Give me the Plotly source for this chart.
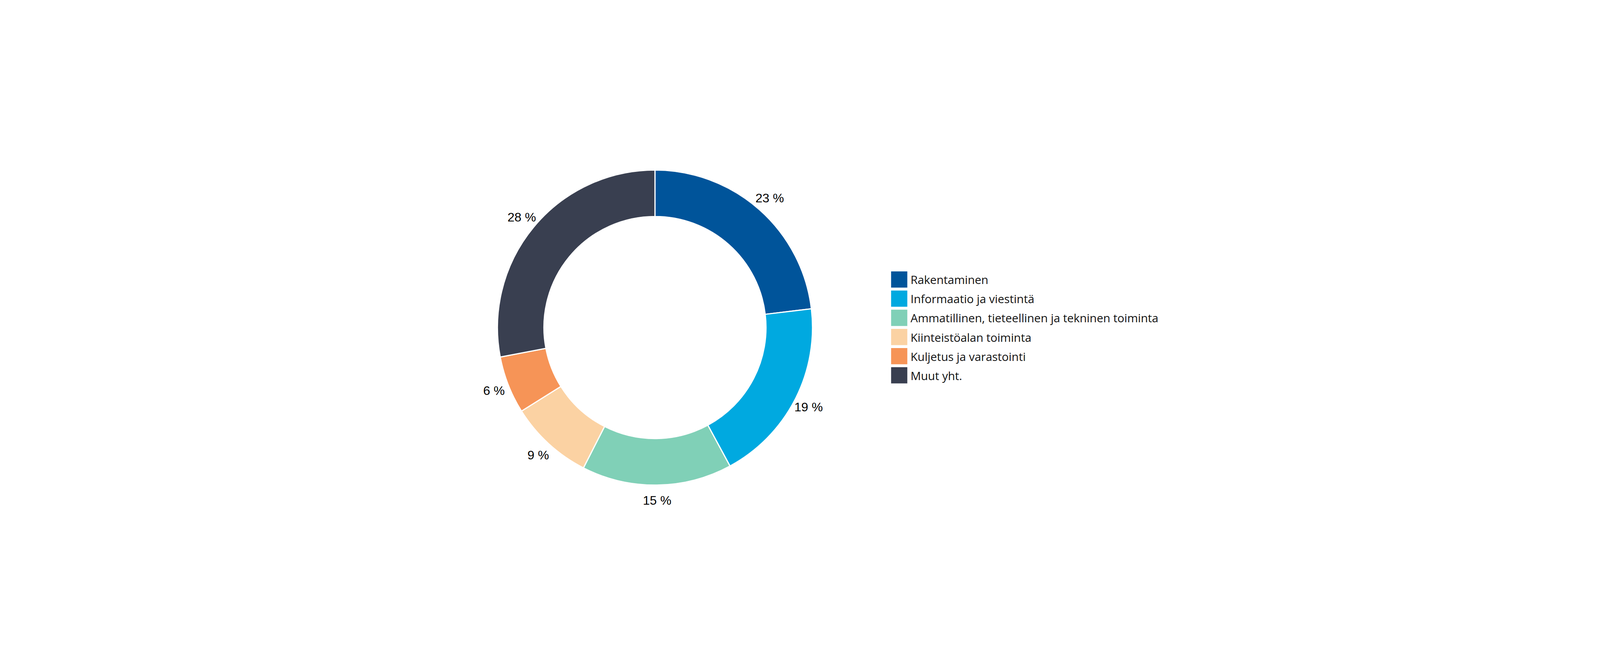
import plotly.graph_objects as go

# Toimialat ja osuudet (%)
categories = [
    "Rakentaminen",
    "Informaatio ja viestintä",
    "Ammatillinen, tieteellinen ja tekninen toiminta",
    "Kiinteistöalan toiminta",
    "Kuljetus ja varastointi",
    "Muut yht.",
]
shares = [23.1, 19.0, 15.4, 8.6, 5.9, 28.0]
colors = ["#00549A", "#00A9E0", "#80D0B7", "#FBD2A3", "#F69457", "#393F50"]

# sizes were measured on the 6000 px wide reference; page px are a bit larger
W = 6000
k = 0.681          # page px per reference px
cx = 2454 / W      # donut centre (paper)
cy = 0.503
R = 593            # donut outer radius, reference px
R_lab = 740        # outer radius of the invisible ring that carries the labels
lab_mid = 651      # labels sit on this radius

fig = go.Figure()

# invisible ring: its inside text gives the percent labels centred on lab_mid
fig.add_trace(go.Pie(
    labels=categories,
    values=shares,
    sort=False,
    direction="clockwise",
    rotation=0,
    hole=1 - 2 * (R_lab - lab_mid) / R_lab,
    marker=dict(colors=["rgba(0,0,0,0)"] * len(shares), line=dict(width=0)),
    textposition="inside",
    insidetextorientation="horizontal",
    texttemplate="%{value:.0f} %",
    textfont=dict(family="Liberation Sans, Arial", size=32, color="black"),
    domain=dict(x=[cx - R_lab / W, cx + R_lab / W], y=[cy - 0.46, cy + 0.46]),
    showlegend=False,
    hoverinfo="skip",
))

fig.add_trace(go.Pie(
    labels=categories,
    values=shares,
    sort=False,
    direction="clockwise",
    rotation=0,
    hole=0.705,
    marker=dict(colors=colors, line=dict(color="white", width=3)),
    textinfo="none",
    domain=dict(x=[cx - R / W, cx + R / W], y=[cy - 0.36, cy + 0.36]),
    showlegend=False,
    hovertemplate="%{label}: %{value:.0f} %<extra></extra>",
))

# legend drawn by hand so the swatches can be large squares
sw_x0 = 3343 / W
sw_x1 = 3404 / W
txt_x = 3413 / W
for i, (name, col) in enumerate(zip(categories, colors)):
    top = 211 - 72 * i          # reference px above the centre line
    fig.add_shape(
        type="rect", xref="paper", yref="paper",
        ysizemode="pixel", yanchor=cy,
        x0=sw_x0, x1=sw_x1,
        y0=(top - 61) * k, y1=top * k,
        fillcolor=col, line=dict(width=0),
    )
    fig.add_annotation(
        xref="paper", yref="paper",
        x=txt_x, y=cy, yshift=(top - 31) * k,
        text=name, showarrow=False,
        xanchor="left", yanchor="middle",
        font=dict(family="Open Sans", size=29.5, color="#111111"),
    )

fig.update_layout(
    margin=dict(l=0, r=0, t=0, b=0),
    paper_bgcolor="white",
    plot_bgcolor="white",
)

fig.write_html("out.html")
